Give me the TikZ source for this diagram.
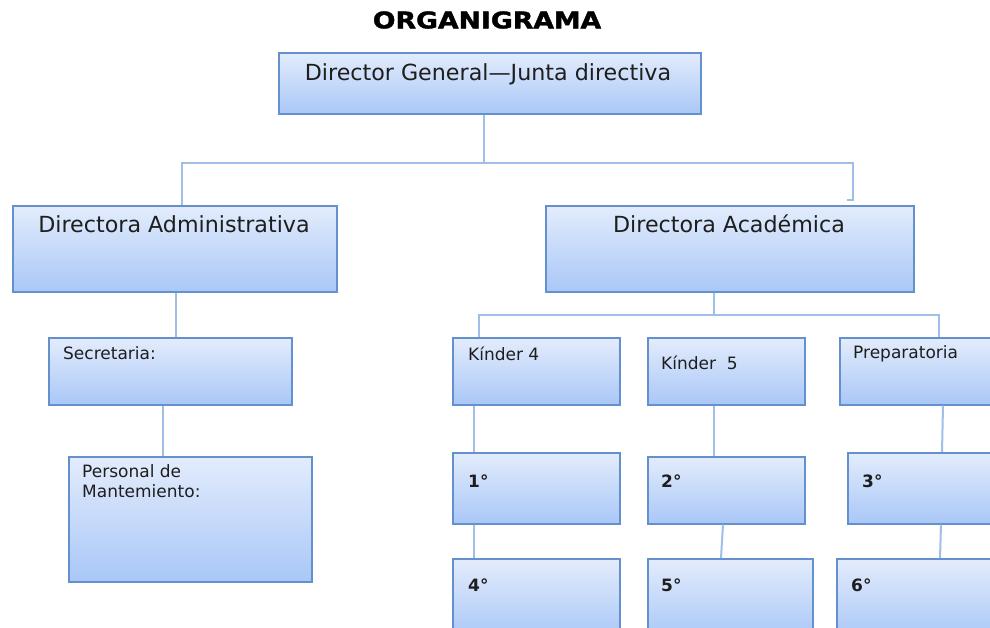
\documentclass[tikz,border=0pt]{standalone}
\usepackage{fontspec}
\setmainfont{DejaVu Sans}
\newfontfamily\orgtitlefont{DejaVu Sans Bold}[FakeBold=1.5]
\usetikzlibrary{shadows,calc}
\definecolor{boxtop}{HTML}{E3ECFC}
\definecolor{boxbot}{HTML}{A9C7F7}
\definecolor{boxborder}{HTML}{6490CD}
\definecolor{linecol}{HTML}{9FBFE8}
\definecolor{txt}{HTML}{1E1E1E}
\begin{document}
\begin{tikzpicture}[x=1pt,y=-1pt,
  orgbox/.style={rectangle, draw=boxborder, line width=1.5pt, top color=boxtop, bottom color=boxbot,
    inner sep=0pt, anchor=north west,
    drop shadow={opacity=0.25, shadow xshift=1.2pt, shadow yshift=-1.2pt}},
  conn/.style={draw=linecol, line width=2pt},
  bigtxt/.style={font=\fontsize{22.2}{25}\selectfont, text=txt, inner sep=0pt},
  smalltxt/.style={font=\fontsize{17}{20}\selectfont, text=txt, inner sep=0pt, anchor=west, align=left},
  numtxt/.style={font=\bfseries\fontsize{17}{20}\selectfont, text=txt, inner sep=0pt, anchor=west}]
\useasboundingbox (0,0) rectangle (990,627);
\clip (0,0) rectangle (990,627);
\fill[white] (0,0) rectangle (990,627);
% title
\node[inner sep=0pt, font=\orgtitlefont\fontsize{23}{26}\selectfont] (title) at (487,20) {\scalebox{1.16}[1]{ORGANIGRAMA}};
% boxes
\node[orgbox, minimum width=422, minimum height=61] (dg) at (278,52) {};
\node[orgbox, minimum width=324, minimum height=86] (da) at (12,205) {};
\node[orgbox, minimum width=368, minimum height=86] (dac) at (545,205) {};
\node[orgbox, minimum width=243, minimum height=67] (sec) at (48,337) {};
\node[orgbox, minimum width=243, minimum height=125] (pm) at (68,456) {};
\node[orgbox, minimum width=167, minimum height=67] (k4) at (452,337) {};
\node[orgbox, minimum width=157, minimum height=67] (k5) at (647,337) {};
\node[orgbox, minimum width=170, minimum height=67] (prep) at (839,337) {};
\node[orgbox, minimum width=167, minimum height=71] (g1) at (452,452) {};
\node[orgbox, minimum width=157, minimum height=67] (g2) at (647,456) {};
\node[orgbox, minimum width=160, minimum height=71] (g3) at (847,452) {};
\node[orgbox, minimum width=167, minimum height=80] (g4) at (452,558) {};
\node[orgbox, minimum width=165, minimum height=80] (g5) at (647,558) {};
\node[orgbox, minimum width=170, minimum height=80] (g6) at (836,558) {};
% texts
\node[bigtxt] (tdg) at (488,74) {Director General—Junta directiva};
\node[bigtxt] (tda) at (174,224) {Directora Administrativa};
\node[bigtxt] (tdac) at (729,224) {Directora Académica};
\node[smalltxt] (tsec) at (63,353) {Secretaria:};
\node[smalltxt, anchor=north west] (tpm) at (82,464) {Personal de\\Mantemiento:};
\node[smalltxt] (tk4) at (468,354) {Kínder 4};
\node[smalltxt] (tk5) at (661,363) {Kínder\ \ 5};
\node[smalltxt] (tprep) at (853,354) {Preparatoria};
\node[numtxt] (t1) at (468,481) {1°};
\node[numtxt] (t2) at (661,481) {2°};
\node[numtxt] (t3) at (862,481) {3°};
\node[numtxt] (t4) at (468,585) {4°};
\node[numtxt] (t5) at (661,585) {5°};
\node[numtxt] (t6) at (851,585) {6°};
% connector coordinates
\coordinate (b1l) at (182,163);
\coordinate (b1m) at (484,163);
\coordinate (b1r) at (853,163);
\coordinate (b1end) at (853,200);
\coordinate (b1foot) at (847,200);
\coordinate (b2l) at (479,315);
\coordinate (b2m) at (714,315);
\coordinate (b2r) at (939,315);
% connectors
\draw[conn] (dg.south -| b1m) -- (b1m);
\draw[conn] (da.north -| b1l) -- (b1l) -- (b1r) -- (b1end) -- (b1foot);
\draw[conn] (dac.south -| b2m) -- (b2m);
\draw[conn] (k4.north -| b2l) -- (b2l) -- (b2r) -- (prep.north -| b2r);
\draw[conn] ($(da.south west)+(164,0)$) -- ($(sec.north west)+(128,0)$);
\draw[conn] ($(sec.south west)+(115,0)$) -- ($(pm.north west)+(95,0)$);
\draw[conn] ($(k4.south west)+(22,0)$) -- ($(g1.north west)+(22,0)$);
\draw[conn] ($(k5.south west)+(67,0)$) -- ($(g2.north west)+(67,0)$);
\draw[conn] ($(prep.south west)+(104,0)$) -- ($(g3.north west)+(95,0)$);
\draw[conn] ($(g1.south west)+(22,0)$) -- ($(g4.north west)+(22,0)$);
\draw[conn] ($(g2.south west)+(76,0)$) -- ($(g5.north west)+(74,0)$);
\draw[conn] ($(g3.south west)+(94,0)$) -- ($(g6.north west)+(104,0)$);
\end{tikzpicture}
\end{document}
